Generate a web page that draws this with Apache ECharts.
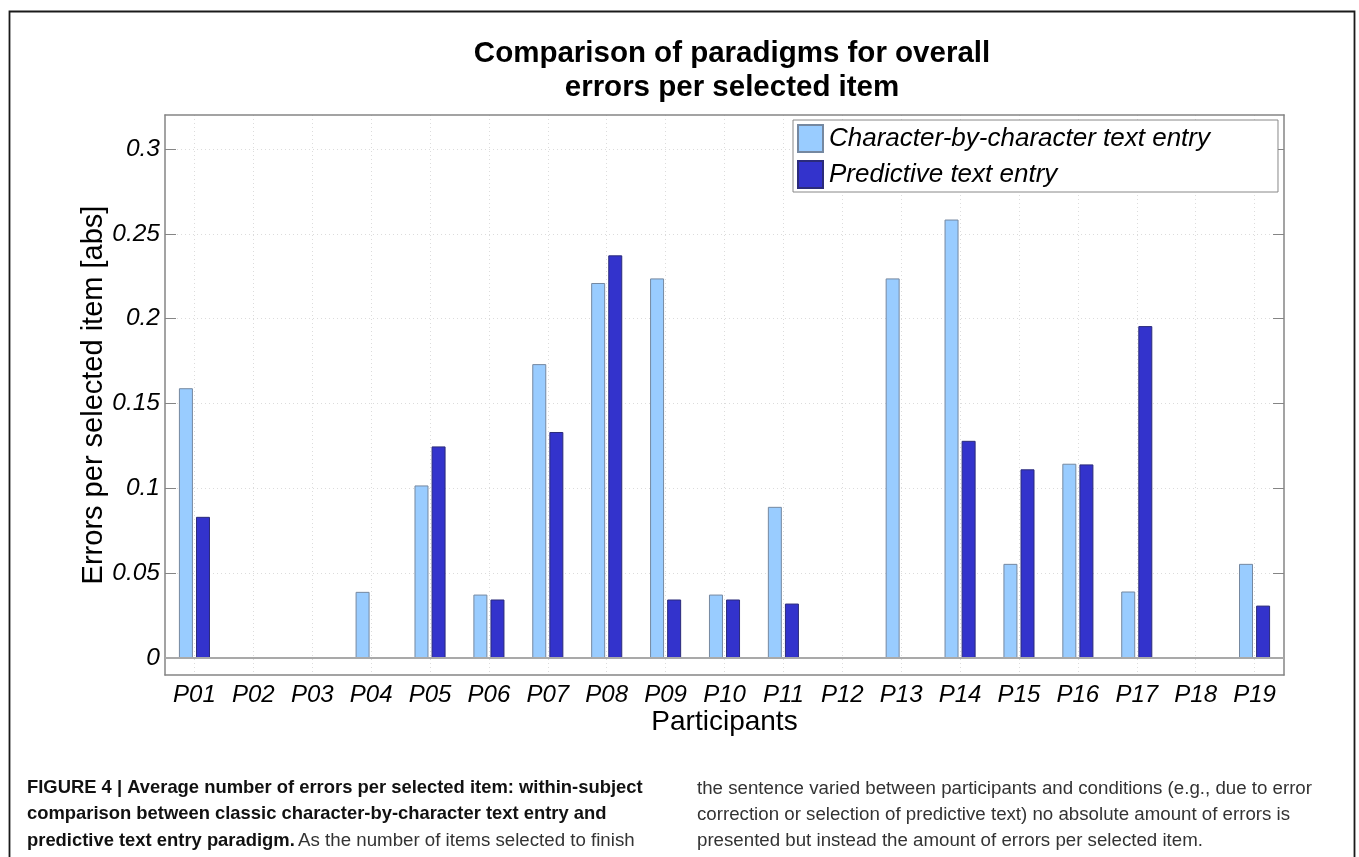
<!DOCTYPE html>
<html>
<head>
<meta charset="utf-8">
<script src="https://cdn.jsdelivr.net/npm/echarts@6/dist/echarts.min.js"></script>
<style>
html,body{margin:0;padding:0;background:#fff;}
#chart{width:1359px;height:857px;}
</style>
</head>
<body>
<div id="chart"></div>
<script>
const participants = ['P01','P02','P03','P04','P05','P06','P07','P08','P09','P10','P11','P12','P13','P14','P15','P16','P17','P18','P19'];
const charByChar = [0.159, 0, 0, 0.039, 0.1017, 0.0374, 0.1732, 0.221, 0.2237, 0.0374, 0.0891, 0, 0.2237, 0.2584, 0.0555, 0.1145, 0.0392, 0, 0.0555];
const predictive = [0.0832, 0, 0, 0, 0.1247, 0.0345, 0.1332, 0.2373, 0.0345, 0.0345, 0.0321, 0, 0, 0.128, 0.1112, 0.1141, 0.1956, 0, 0.0309];
const yTicks = [0, 0.05, 0.1, 0.15, 0.2, 0.25, 0.3];
const seriesNames = ['Character-by-character text entry', 'Predictive text entry'];

const FONT = '"Liberation Sans", Arial, sans-serif';
const CAP = '"Liberation Sans", Arial, sans-serif';
const AX = '#858585';

const chart = echarts.init(document.getElementById('chart'));
const capBold = {fontFamily: CAP, fontSize: 18.4, fontWeight: 'bold', fill: '#111'};
const capReg = {fontFamily: CAP, fontSize: 18.7, fill: '#333'};

const option = {
  animation: false,
  backgroundColor: '#fff',
  title: {
    text: 'Comparison of paradigms for overall\nerrors per selected item',
    left: 727, top: 32, textAlign: 'center',
    textStyle: {fontFamily: FONT, fontSize: 29.5, fontWeight: 'bold', color: '#000', lineHeight: 34}
  },
  legend: {
    orient: 'vertical',
    left: 793, top: 120,
    icon: 'rect',
    itemWidth: 25, itemHeight: 27, itemGap: 7,
    padding: [4, 68, 3, 4],
    borderColor: '#888', borderWidth: 1, backgroundColor: '#fff',
    textStyle: {fontFamily: FONT, fontSize: 26, fontStyle: 'italic', color: '#000', padding: [0,0,0,1]},
    data: seriesNames
  },
  grid: {left: 165, top: 115, right: 75, bottom: 182, show: false},
  xAxis: [{
    type: 'category', data: participants, position: 'bottom',
    axisLine: {onZero: false, lineStyle: {color: AX, width: 1.5}},
    axisTick: {inside: true, alignWithLabel: true, length: 11, lineStyle: {color: AX, width: 1}},
    axisLabel: {fontFamily: FONT, fontSize: 24, fontStyle: 'italic', color: '#000', margin: 8},
    splitLine: {show: true, alignWithLabel: true, lineStyle: {color: '#dcdcdc', type: [1, 3]}},
    name: 'Participants', nameLocation: 'middle', nameGap: 33, nameMoveOverlap: false,
    nameTextStyle: {fontFamily: FONT, fontSize: 28, color: '#000'}
  }, {
    type: 'category', data: participants, position: 'top',
    axisLine: {onZero: false, lineStyle: {color: AX, width: 1.5}},
    axisTick: {inside: true, alignWithLabel: true, length: 11, lineStyle: {color: AX, width: 1}},
    axisLabel: {show: false}, splitLine: {show: false}
  }],
  yAxis: [{
    type: 'value', min: -0.01, max: 0.32, position: 'left',
    axisLine: {show: true, onZero: false, lineStyle: {color: AX, width: 1.5}},
    axisTick: {show: true, inside: true, length: 11, customValues: yTicks, lineStyle: {color: AX, width: 1}},
    axisLabel: {customValues: yTicks, fontFamily: FONT, fontSize: 24.5, fontStyle: 'italic', color: '#000', margin: 5,
      formatter: v => (Math.round(v * 100) / 100).toString()},
    splitLine: {show: true, lineStyle: {color: '#dcdcdc', type: [1, 3]}},
    name: 'Errors per selected item [abs]', nameLocation: 'middle', nameGap: 57, nameMoveOverlap: false,
    nameTextStyle: {fontFamily: FONT, fontSize: 29, color: '#000'}
  }, {
    type: 'value', min: -0.01, max: 0.32, position: 'right',
    axisLine: {show: true, onZero: false, lineStyle: {color: AX, width: 1.5}},
    axisTick: {show: true, inside: true, length: 11, customValues: yTicks, lineStyle: {color: AX, width: 1}},
    axisLabel: {show: false}, splitLine: {show: false}
  }],
  series: [{
    name: seriesNames[0], type: 'bar', data: charByChar,
    barWidth: 14, barGap: '22%',
    itemStyle: {color: '#99ccff', borderColor: '#7588a0', borderWidth: 1},
    markLine: {
      silent: true, symbol: 'none', label: {show: false},
      lineStyle: {color: '#a9a9a9', width: 2, type: 'solid'},
      data: [{yAxis: 0}]
    }
  }, {
    name: seriesNames[1], type: 'bar', data: predictive,
    barWidth: 14, barGap: '22%',
    itemStyle: {color: '#3333cc', borderColor: '#2b2b7a', borderWidth: 1}
  }],
  graphic: [
    {type: 'rect', left: 7, top: 9, silent: true, z: -1,
      shape: {width: 1345, height: 860},
      style: {fill: 'none', stroke: '#1a1a1a', lineWidth: 1.8}},
    {type: 'text', left: 27, top: 779, style: {text: 'FIGURE 4 | Average number of errors per selected item: within-subject', ...capBold}},
    {type: 'text', left: 27, top: 805, style: {text: 'comparison between classic character-by-character text entry and', ...capBold}},
    {type: 'text', left: 27, top: 831, style: {
      text: '{b|predictive text entry paradigm.} {r|As the number of items selected to finish}',
      rich: {b: capBold, r: capReg}}},
    {type: 'text', left: 697, top: 779, style: {text: 'the sentence varied between participants and conditions (e.g., due to error', ...capReg}},
    {type: 'text', left: 697, top: 805, style: {text: 'correction or selection of predictive text) no absolute amount of errors is', ...capReg}},
    {type: 'text', left: 697, top: 831, style: {text: 'presented but instead the amount of errors per selected item.', ...capReg}}
  ]
};
chart.setOption(option);
</script>
</body>
</html>
